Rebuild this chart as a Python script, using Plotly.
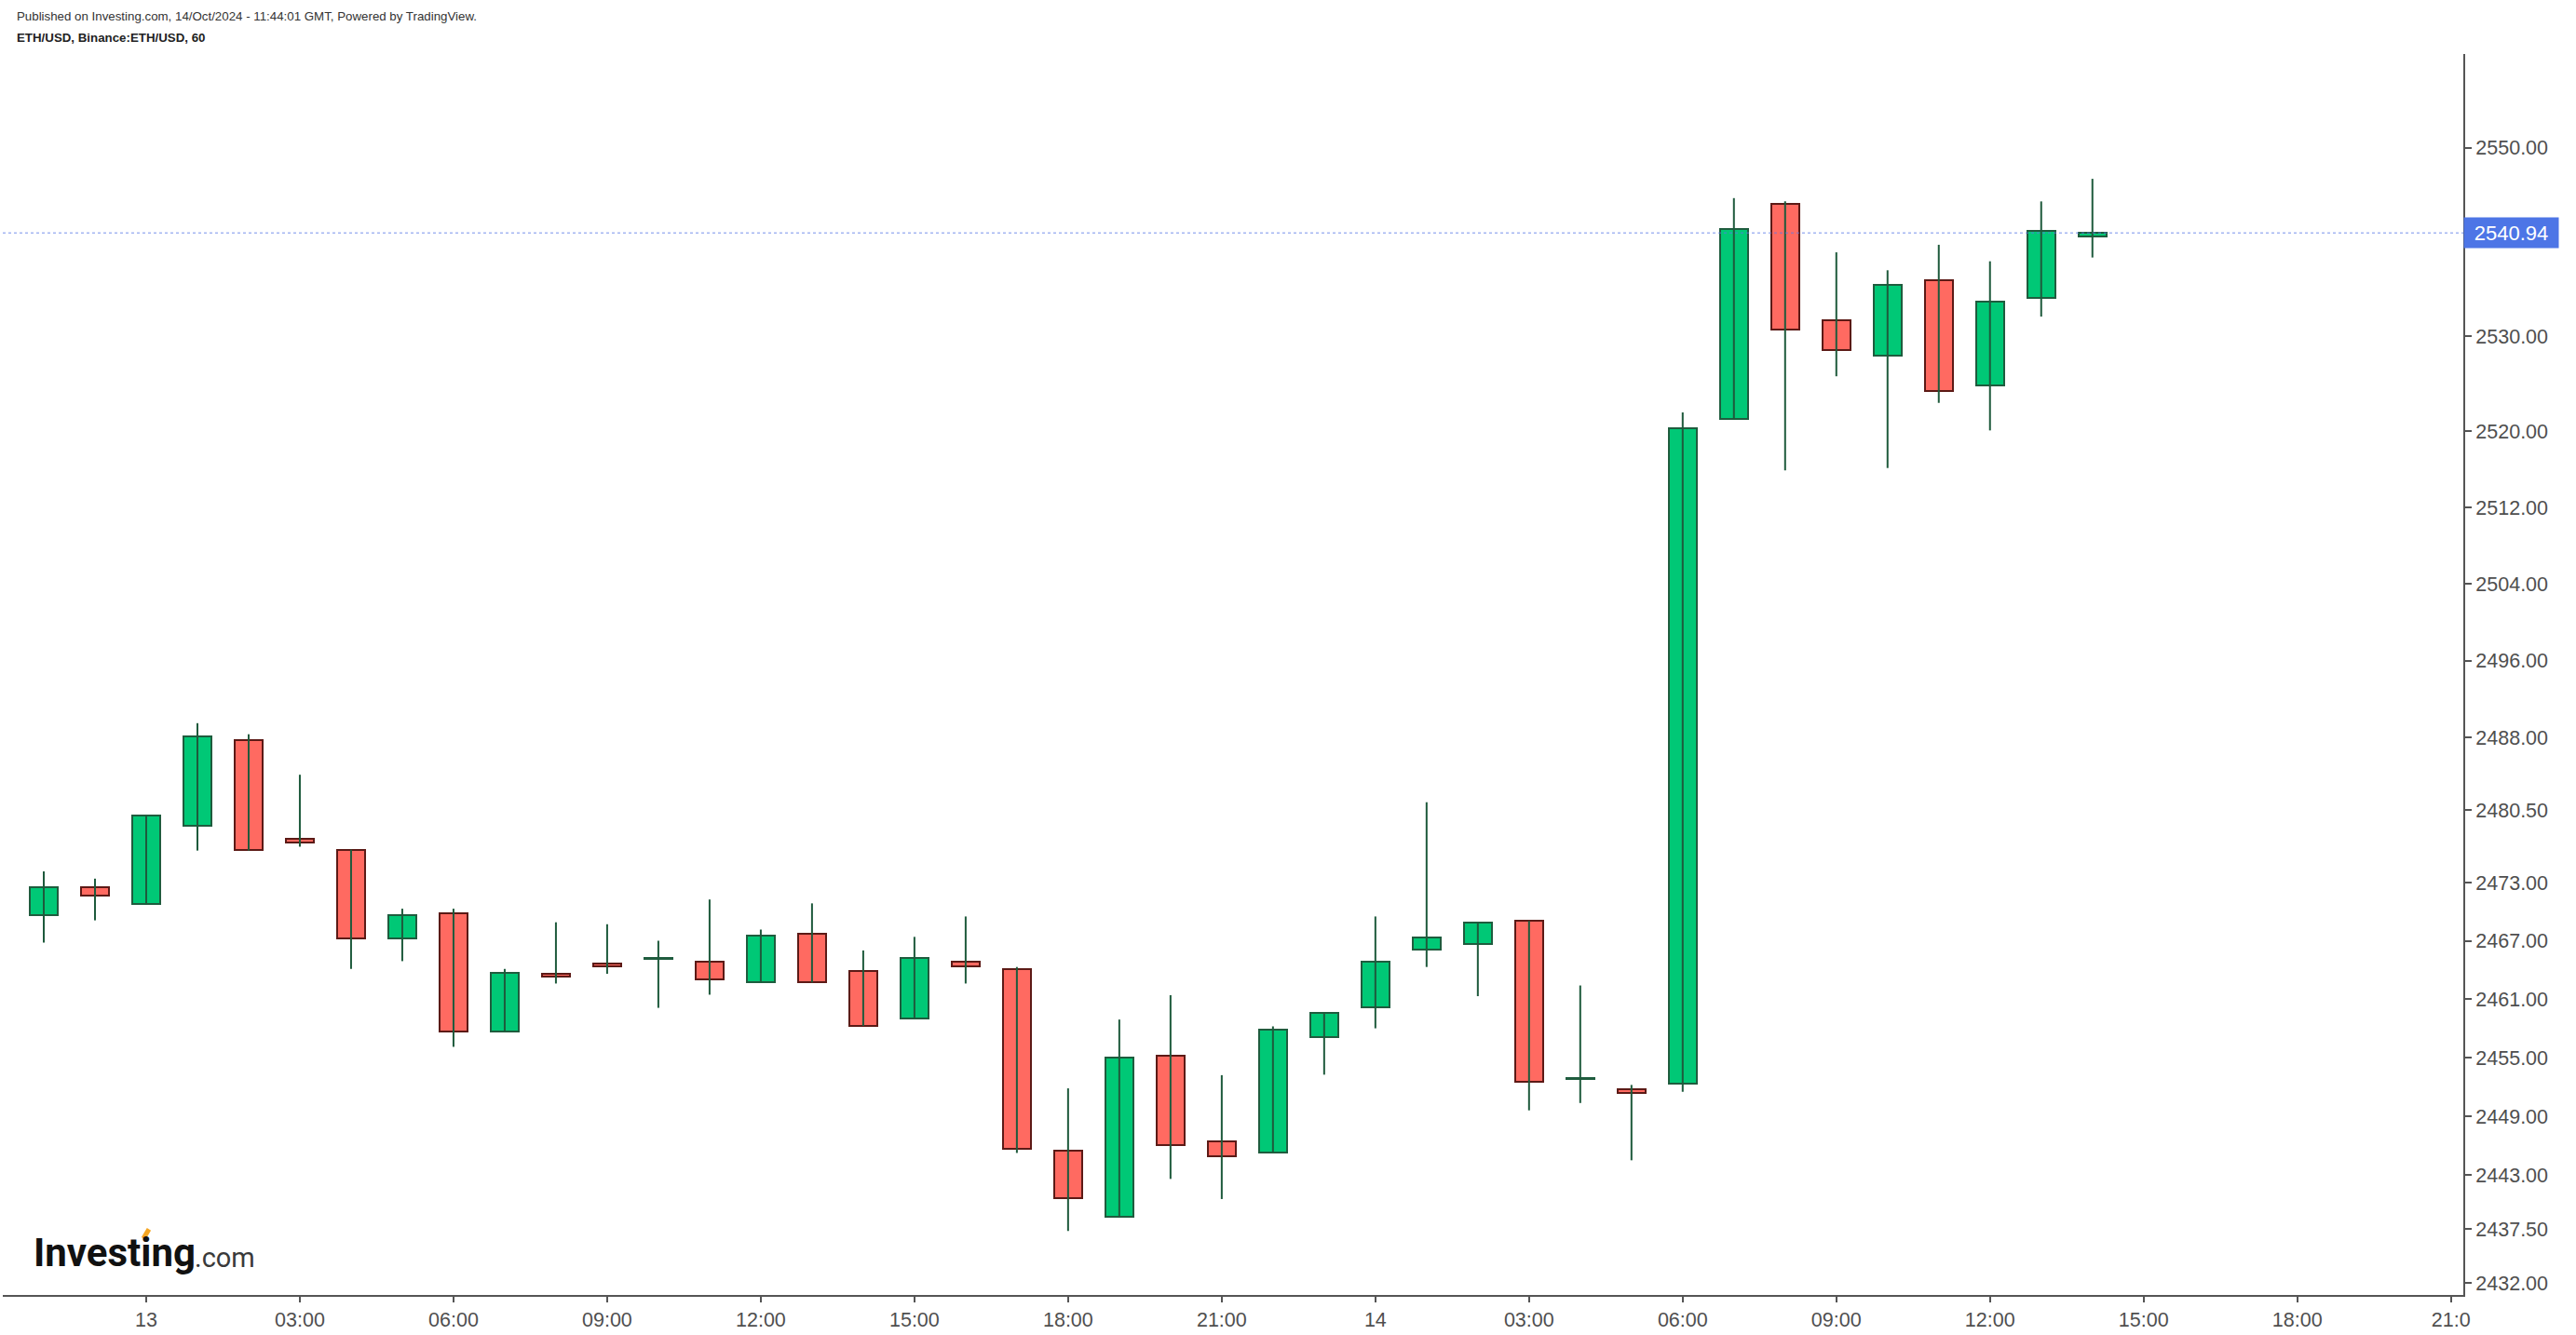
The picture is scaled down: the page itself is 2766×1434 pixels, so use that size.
import math
import pandas as pd
import plotly.graph_objects as go

# ---- data (hourly ETH/USD candles) ----
times = pd.date_range("2024-10-12 22:00", periods=41, freq="h")
opens = [2469.6, 2472.5, 2470.8, 2478.9, 2487.75, 2477.55, 2476.4, 2467.25, 2469.8, 2457.65,
         2463.6, 2464.65, 2465.1, 2464.8, 2462.7, 2467.7, 2463.85, 2459.0, 2464.8, 2464.05,
         2445.5, 2438.7, 2455.2, 2446.45, 2445.3, 2457.1, 2460.15, 2466.1, 2466.7, 2469.05,
         2452.85, 2451.8, 2452.35, 2521.3, 2544.0, 2531.75, 2528.0, 2535.9, 2524.85, 2534.05,
         2540.55]
highs = [2474.15, 2473.4, 2480.0, 2489.5, 2488.35, 2484.15, 2476.4, 2470.3, 2470.3, 2464.1,
         2468.9, 2468.7, 2467.0, 2471.25, 2468.15, 2470.85, 2466.0, 2467.4, 2469.5, 2464.3,
         2451.85, 2458.9, 2461.4, 2453.2, 2458.2, 2459.6, 2469.5, 2481.3, 2468.85, 2469.05,
         2462.4, 2452.2, 2522.0, 2544.65, 2544.3, 2538.9, 2537.0, 2539.7, 2537.95, 2544.3,
         2546.7]
lows = [2466.8, 2469.1, 2470.7, 2476.3, 2476.3, 2476.7, 2464.1, 2464.9, 2456.1, 2457.65,
        2462.6, 2463.6, 2460.1, 2461.45, 2462.7, 2462.7, 2458.25, 2459.0, 2462.6, 2445.25,
        2437.3, 2438.7, 2442.6, 2440.55, 2445.3, 2453.25, 2458.0, 2464.3, 2461.3, 2449.6,
        2450.35, 2444.5, 2451.5, 2521.3, 2515.9, 2525.8, 2516.15, 2523.0, 2520.1, 2532.1,
        2538.35]
closes = [2472.5, 2471.7, 2479.9, 2488.1, 2476.35, 2477.1, 2467.25, 2469.6, 2457.65, 2463.65,
          2463.3, 2464.35, 2465.2, 2463.0, 2467.5, 2462.7, 2458.25, 2465.2, 2464.4, 2445.65,
          2440.6, 2455.0, 2446.05, 2444.95, 2457.9, 2459.6, 2464.85, 2467.3, 2468.85, 2452.5,
          2452.95, 2451.35, 2520.35, 2541.4, 2530.75, 2528.55, 2535.5, 2524.25, 2533.7, 2541.2,
          2540.94]
last_price = 2540.94

y_tickvals = [2432, 2437.5, 2443, 2449, 2455, 2461, 2467, 2473, 2480.5, 2488,
              2496, 2504, 2512, 2520, 2530, 2550]
x_tickvals = ["2024-10-13 00:00", "2024-10-13 03:00", "2024-10-13 06:00", "2024-10-13 09:00",
              "2024-10-13 12:00", "2024-10-13 15:00", "2024-10-13 18:00", "2024-10-13 21:00",
              "2024-10-14 00:00", "2024-10-14 03:00", "2024-10-14 06:00", "2024-10-14 09:00",
              "2024-10-14 12:00", "2024-10-14 15:00", "2024-10-14 18:00", "2024-10-14 21:00"]
x_ticktext = ["13", "03:00", "06:00", "09:00", "12:00", "15:00", "18:00", "21:00",
              "14", "03:00", "06:00", "09:00", "12:00", "15:00", "18:00", "21:0"]

x_range = ["2024-10-12 21:12", "2024-10-14 21:14:30"]
y_range = [math.log10(2430.8), math.log10(2560.0)]

# ---- styles ----
GREEN = "#00C876"
GREEN_EDGE = "#1f5c3e"
RED = "#FF6A61"
RED_EDGE = "#5c1a16"
WICK = "#1e5a3c"
AXIS = "#555555"
TXT = "#4f4f4f"
BODY_W = 0.55 * 3600 * 1000  # ms

fig = go.Figure()

# wicks
wx, wy = [], []
for t, lo, hi in zip(times, lows, highs):
    wx += [t, t, None]
    wy += [lo, hi, None]
fig.add_trace(go.Scatter(x=wx, y=wy, mode="lines", line=dict(color=WICK, width=2),
                         hoverinfo="skip", showlegend=False))

# bodies
ux, ub, uh, dx, db, dh = [], [], [], [], [], []
for t, o, c in zip(times, opens, closes):
    if c >= o:
        ux.append(t); ub.append(o); uh.append(max(c - o, 0.05))
    else:
        dx.append(t); db.append(c); dh.append(max(o - c, 0.05))
fig.add_trace(go.Bar(x=ux, y=uh, base=ub, width=BODY_W,
                     marker=dict(color=GREEN, line=dict(color=GREEN_EDGE, width=2)),
                     showlegend=False, hoverinfo="skip"))
fig.add_trace(go.Bar(x=dx, y=dh, base=db, width=BODY_W,
                     marker=dict(color=RED, line=dict(color=RED_EDGE, width=2)),
                     showlegend=False, hoverinfo="skip"))

# last price line
fig.add_trace(go.Scatter(x=x_range, y=[last_price, last_price], mode="lines",
                         line=dict(color="rgba(90,120,230,0.55)", width=1.5, dash="dot"),
                         hoverinfo="skip", showlegend=False))

fig.update_layout(
    width=2766, height=1434,
    margin=dict(l=3, r=121, t=58, b=43),
    paper_bgcolor="white", plot_bgcolor="white",
    barmode="overlay", bargap=0,
    showlegend=False,
    font=dict(family="Arial, Liberation Sans, sans-serif", color=TXT, size=21.5),
    xaxis=dict(type="date", range=x_range, showgrid=False, zeroline=False,
               showline=True, linecolor=AXIS, linewidth=2,
               ticks="outside", ticklen=6, tickwidth=1.5, tickcolor=AXIS,
               tickvals=x_tickvals, ticktext=x_ticktext,
               tickfont=dict(size=21.5, color=TXT)),
    yaxis=dict(type="log", range=y_range, side="right", showgrid=False, zeroline=False,
               showline=True, linecolor=AXIS, linewidth=2,
               ticks="outside", ticklen=7, tickwidth=1.5, tickcolor=AXIS,
               tickvals=y_tickvals, ticktext=[f"{v:.2f}" for v in y_tickvals],
               tickfont=dict(size=21.5, color=TXT)),
)

annotations = [
    dict(text="Published on Investing.com, 14/Oct/2024 - 11:44:01 GMT, Powered by TradingView.",
         xref="paper", yref="paper", x=0, y=1, xanchor="left", yanchor="middle",
         xshift=13, yshift=41, showarrow=False,
         font=dict(size=13.3, color="#333333", family="Arial, Liberation Sans")),
    dict(text="<b>ETH/USD, Binance:ETH/USD, 60</b>",
         xref="paper", yref="paper", x=0, y=1, xanchor="left", yanchor="middle",
         xshift=13, yshift=17.5, showarrow=False,
         font=dict(size=13.3, color="#222222", family="Arial, Liberation Sans")),
    dict(text=f"{last_price:.2f}", xref="paper", yref="y", x=1, y=math.log10(last_price),
         xanchor="left", yanchor="middle", showarrow=False, xshift=0,
         bgcolor="#4d75e6", borderpad=2, width=97, height=28,
         font=dict(size=22, color="white", family="Arial, Liberation Sans")),
    dict(text="<b>Investing</b>", xref="paper", yref="paper", x=0, y=0,
         xanchor="left", yanchor="middle", xshift=31, yshift=46, showarrow=False,
         font=dict(size=42, color="#111111", family="Roboto")),
    dict(text=".com", xref="paper", yref="paper", x=0, y=0,
         xanchor="left", yanchor="middle", xshift=204, yshift=40, showarrow=False,
         font=dict(size=29, color="#3a3a3a", family="Roboto")),
]
fig.update_layout(annotations=annotations)

# orange accent of the logo (decoration)
fig.add_shape(type="line", xref="paper", yref="paper",
              x0=0.05715, y0=0.0455, x1=0.0594, y1=0.0530,
              line=dict(color="#f5a623", width=5), layer="above")

fig.write_html("out.html", config={"displayModeBar": False},
               post_script="document.body.style.margin='0';")
